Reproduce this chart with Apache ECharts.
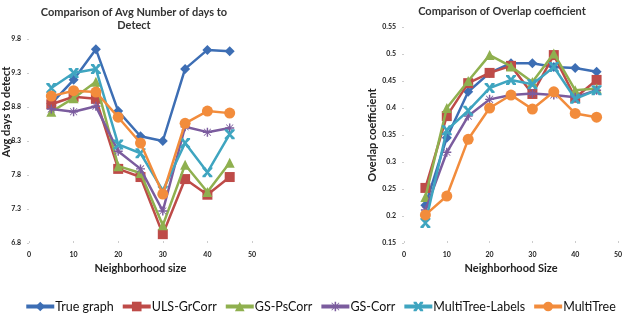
<!DOCTYPE html>
<html>
<head>
<meta charset="utf-8">
<script src="https://cdn.jsdelivr.net/npm/echarts@6/dist/echarts.min.js"></script>
<style>html,body{margin:0;padding:0;background:#fff}#c{width:640px;height:318px}</style>
</head>
<body>
<div id="c"></div>
<script>
const neighborhood = [5, 10, 15, 20, 25, 30, 35, 40, 45];
const seriesNames = ['True graph', 'ULS-GrCorr', 'GS-PsCorr', 'GS-Corr', 'MultiTree-Labels', 'MultiTree'];

// Left chart: Avg number of days to detect
const daysTrueGraph = [8.85, 9.2, 9.65, 8.74, 8.37, 8.3, 9.36, 9.64, 9.62];
const daysUlsGrCorr = [8.84, 8.95, 8.92, 7.89, 7.77, 6.93, 7.74, 7.51, 7.77];
const daysGsPsCorr = [8.73, 8.93, 9.17, 7.93, 7.83, 7.06, 7.95, 7.55, 7.98];
const daysGsCorr = [8.77, 8.73, 8.81, 8.15, 7.89, 7.27, 8.51, 8.43, 8.49];
const daysMultiTreeLabels = [9.08, 9.3, 9.36, 8.25, 8.12, 7.57, 8.27, 7.84, 8.4];
const daysMultiTree = [8.96, 9.04, 9.02, 8.65, 8.27, 7.52, 8.56, 8.74, 8.71];

// Right chart: Overlap coefficient
const ovTrueGraph = [0.22, 0.345, 0.43, 0.465, 0.483, 0.483, 0.476, 0.474, 0.467];
const ovUlsGrCorr = [0.252, 0.385, 0.446, 0.465, 0.478, 0.426, 0.498, 0.419, 0.452];
const ovGsPsCorr = [0.235, 0.4, 0.45, 0.498, 0.477, 0.448, 0.501, 0.433, 0.436];
const ovGsCorr = [0.211, 0.318, 0.385, 0.416, 0.424, 0.427, 0.424, 0.42, 0.433];
const ovMultiTreeLabels = [0.187, 0.359, 0.395, 0.437, 0.452, 0.444, 0.476, 0.417, 0.433];
const ovMultiTree = [0.202, 0.237, 0.342, 0.4, 0.424, 0.398, 0.43, 0.39, 0.383];

const leftYTicks = ['6.8', '7.3', '7.8', '8.3', '8.8', '9.3', '9.8'];

const colors = ['#3D6EB4', '#BE4B48', '#8FB04F', '#7B5C9E', '#3FA5C0', '#F28C3C'];
const ASTER = 'path://M4.2,0 L5.8,0 L5.8,3.6 L8.6,0.8 L9.2,1.4 L6.4,4.2 L10,4.2 L10,5.8 L6.4,5.8 L9.2,8.6 L8.6,9.2 L5.8,6.4 L5.8,10 L4.2,10 L4.2,6.4 L1.4,9.2 L0.8,8.6 L3.6,5.8 L0,5.8 L0,4.2 L3.6,4.2 L0.8,1.4 L1.4,0.8 L4.2,3.6 Z';
const STARX = 'path://M0,0 L3,0 L5,3 L7,0 L10,0 L10,1.5 L6.5,5 L10,8.5 L10,10 L7,10 L5,7 L3,10 L0,10 L0,8.5 L3.5,5 L0,1.5 Z';
const symbols = ['diamond', 'rect', 'triangle', ASTER, STARX, 'circle'];
const symSizes = [10, 10, 10, 9, 10, 11];

const leftData = [daysTrueGraph, daysUlsGrCorr, daysGsPsCorr, daysGsCorr, daysMultiTreeLabels, daysMultiTree];
const rightData = [ovTrueGraph, ovUlsGrCorr, ovGsPsCorr, ovGsCorr, ovMultiTreeLabels, ovMultiTree];

const font = 'Lato, "Open Sans", sans-serif';
const series = [];
function addSeries(dataSets, idx) {
  dataSets.forEach((vals, i) => {
    series.push({
      name: seriesNames[i],
      type: 'line',
      xAxisIndex: idx, yAxisIndex: idx,
      data: neighborhood.map((x, j) => [x, vals[j]]),
      symbol: symbols[i],
      symbolSize: symSizes[i],
      itemStyle: { color: colors[i] },
      lineStyle: { color: colors[i], width: 2.5 },
      z: 2 + i,
      animation: false
    });
  });
}
addSeries(leftData, 0);
addSeries(rightData, 1);

const axisLabelStyle = { fontFamily: font, fontSize: 7, fontWeight: 'bold', color: '#222' };
const chart = echarts.init(document.getElementById('c'));
chart.setOption({
  backgroundColor: '#fff',
  animation: false,
  color: colors,
  title: [
    { text: 'Comparison of Avg Number of days to\nDetect', left: 129, top: 1, textAlign: 'center',
      textStyle: { fontFamily: font, fontSize: 11, fontWeight: 'bold', color: '#333', lineHeight: 13 } },
    { text: 'Comparison of Overlap coefficient', left: 497, top: 1, textAlign: 'center',
      textStyle: { fontFamily: font, fontSize: 11, fontWeight: 'bold', color: '#333' } }
  ],
  grid: [
    { left: 29, top: 39, width: 223, height: 204 },
    { left: 404, top: 27, width: 214, height: 216 }
  ],
  xAxis: [0, 1].map(i => ({
    type: 'value', gridIndex: i, min: 0, max: 50, interval: 10,
    name: i === 0 ? 'Neighborhood size' : 'Neighborhood Size',
    nameLocation: 'middle', nameGap: 15,
    nameTextStyle: { fontFamily: font, fontSize: 11, fontWeight: 'bold', color: '#222' },
    axisLine: { show: false },
    axisTick: { show: true, length: 2, inside: true, lineStyle: { color: '#ccc' } },
    splitLine: { show: false },
    axisLabel: Object.assign({ margin: 8 }, axisLabelStyle)
  })),
  yAxis: [
    { type: 'value', gridIndex: 0, min: 6.8, max: 9.8, interval: 0.5,
      axisLine: { show: false }, splitLine: { show: false },
      axisTick: { show: true, length: 2, lineStyle: { color: '#ccc' } },
      axisLabel: Object.assign({ margin: 8, formatter: v => leftYTicks[Math.round((v - 6.8) / 0.5)] }, axisLabelStyle) },
    { type: 'value', gridIndex: 1, min: 0.15, max: 0.55, interval: 0.05,
      name: 'Overlap coefficient', nameLocation: 'middle', nameGap: 22,
      nameTextStyle: { fontFamily: font, fontSize: 11, fontWeight: 'bold', color: '#222' },
      axisLine: { show: false }, splitLine: { show: false },
      axisTick: { show: true, length: 2, lineStyle: { color: '#ccc' } },
      axisLabel: Object.assign({ margin: 8, formatter: v => String(parseFloat(v.toFixed(2))) }, axisLabelStyle) }
  ],
  graphic: [
    { type: 'text', rotation: Math.PI / 2, originX: 0, originY: 0,
      style: { text: 'Avg days to detect', font: 'bold 11px ' + font, fill: '#222', align: 'center', verticalAlign: 'top' },
      position: [1, 112] }
  ],
  legend: {
    bottom: 0, left: 'center', itemGap: 7, itemWidth: 28, itemHeight: 12,
    lineStyle: { width: 4 },
    textStyle: { fontFamily: font, fontSize: 12.5, color: '#111', padding: [0, 0, 0, -4] },
    data: seriesNames
  },
  series: series
});
</script>
</body>
</html>
